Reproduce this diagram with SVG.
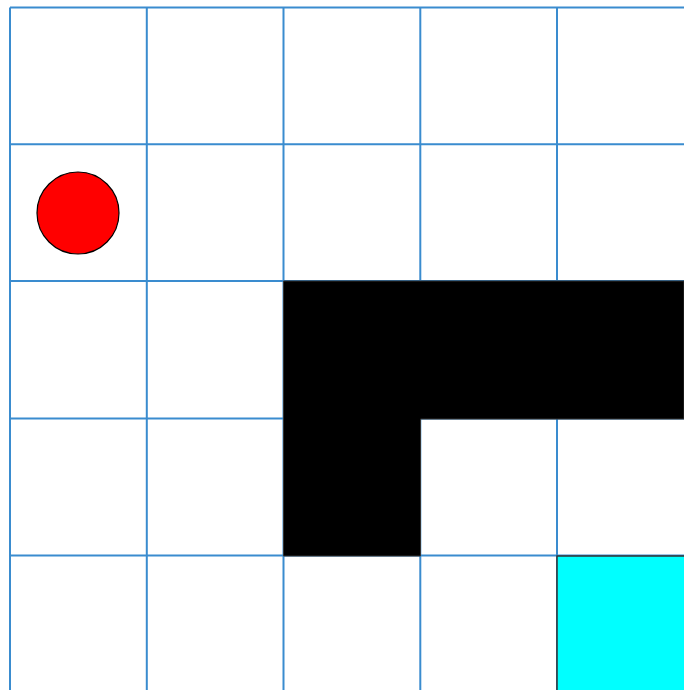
<svg xmlns="http://www.w3.org/2000/svg" width="684" height="690" viewBox="0 0 684 690">
<style>
.g{stroke:#3a8ccf;stroke-width:2;fill:none}
.wall{fill:#000;stroke:#333;stroke-width:1}
.goal{fill:#00ffff;stroke:#333;stroke-width:1.5}
</style>
<rect width="684" height="690" fill="#fff"/>
<g id="grid">
<path class="g" d="M10,7.5V690M146.8,7.5V690M283.5,7.5V690M420.3,7.5V690M557,7.5V690M10,7.5H684M10,144.3H684M10,281H684M10,418.5H684M10,555.5H684"/>
</g>
<g id="wall">
<path class="wall" d="M283.5,281H684V419H420.5V556H283.5Z"/>
</g>
<g id="goal">
<rect class="goal" x="557" y="556" width="130" height="140"/>
</g>
<g id="agent">
<circle cx="78" cy="213" r="41" fill="#ff0000" stroke="#000" stroke-width="1.2"/>
</g>
</svg>
